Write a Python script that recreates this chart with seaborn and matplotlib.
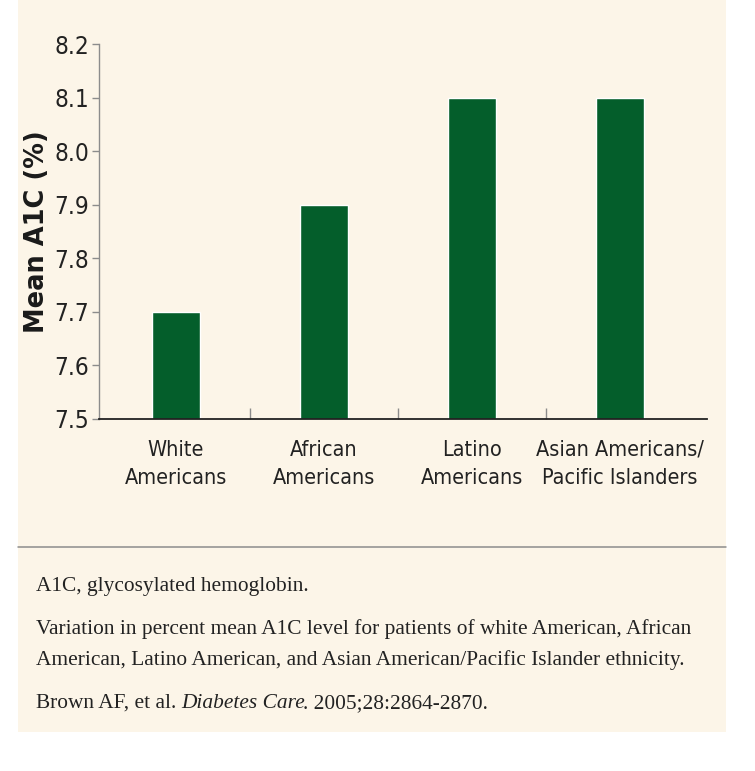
import matplotlib
matplotlib.use("Agg")
import matplotlib.pyplot as plt
import seaborn as sns
from matplotlib.patches import Rectangle
from matplotlib.lines import Line2D

# ── data ─────────────────────────────────────────────
categories = ["White\nAmericans", "African\nAmericans", "Latino\nAmericans",
              "Asian Americans/\nPacific Islanders"]
mean_a1c = [7.7, 7.9, 8.1, 8.1]
y_ticks = [7.5, 7.6, 7.7, 7.8, 7.9, 8.0, 8.1, 8.2]

notes = ["A1C, glycosylated hemoglobin.",
         "Variation in percent mean A1C level for patients of white American, African",
         "American, Latino American, and Asian American/Pacific Islander ethnicity."]
ref_pre, ref_journal, ref_post = "Brown AF, et al. ", "Diabetes Care", ". 2005;28:2864-2870."

# ── style ────────────────────────────────────────────
CREAM = "#fcf5e8"
GREEN = "#045e2b"
TXT = "#222222"
sns.set_theme(style="white")
plt.rcParams["font.family"] = ["DejaVu Sans"]
plt.rcParams["font.stretch"] = "condensed"

W, H = 755, 771
fig = plt.figure(figsize=(W / 100, H / 100), dpi=100, facecolor="white")

# cream panel + separator line
fig.patches.append(Rectangle((18 / W, 1 - 732 / H), (726 - 18) / W, 732 / H,
                             transform=fig.transFigure, facecolor=CREAM,
                             edgecolor="none", zorder=-10))
fig.lines.append(Line2D([18 / W, 726 / W], [1 - 547 / H, 1 - 547 / H],
                        transform=fig.transFigure, color="#8c8c8c", lw=1.1))

ax = fig.add_axes([99 / W, 1 - 419 / H, (707 - 99) / W, (419 - 44) / H])
ax.set_facecolor("none")

sns.barplot(x=categories, y=mean_a1c, color=GREEN, width=0.325,
            saturation=1, ax=ax, zorder=2)

ax.set_ylim(7.5, 8.2)
ax.set_xlim(-0.52, 3.59)
ax.set_yticks(y_ticks)
ax.set_yticklabels([f"{v:.1f}" for v in y_ticks], fontsize=17.5, color=TXT,
                   fontstretch="condensed")
ax.tick_params(axis="y", left=True, length=5, width=1, color="#8c8c8c", pad=2)
ax.tick_params(axis="x", bottom=False, length=0, pad=15, labelsize=15.5,
               labelcolor=TXT)
for lbl in ax.get_xticklabels():
    lbl.set_linespacing(1.5)
    lbl.set_fontstretch("condensed")
ax.set_xticks([0.5, 1.5, 2.5], minor=True)
ax.tick_params(axis="x", which="minor", bottom=True, direction="in",
               length=8, width=1, color="#8c8c8c")

for s in ["top", "right"]:
    ax.spines[s].set_visible(False)
ax.spines["left"].set_color("#8c8c8c")
ax.spines["left"].set_linewidth(1)
ax.spines["bottom"].set_color("#222222")
ax.spines["bottom"].set_linewidth(1.3)

ax.set_xlabel("")
ax.set_ylabel("Mean A1C (%)", fontsize=18.5, fontweight="bold",
              fontstretch="normal", color="#1a1a1a")
ax.yaxis.set_label_coords(-0.08, 0.5)

# ── footnotes ────────────────────────────────────────
serif = "Liberation Serif"
FS = 15.4
x0 = 36 / W
for txt, yb in zip(notes, [591, 634, 665]):
    fig.text(x0, 1 - yb / H, txt, family=serif, fontsize=FS,
             fontstretch="normal", va="baseline", color=TXT)
t1 = fig.text(x0, 1 - 708 / H, ref_pre, family=serif, fontsize=FS,
              fontstretch="normal", va="baseline", color=TXT)
t2 = fig.text(0, 0, ref_journal, family=serif, style="italic", fontsize=FS,
              fontstretch="normal", va="baseline", color=TXT)
t3 = fig.text(0, 0, ref_post, family=serif, fontsize=FS,
              fontstretch="normal", va="baseline", color=TXT)
fig.canvas.draw()
r = fig.canvas.get_renderer()
x1 = t1.get_window_extent(r).x1
t2.set_position((x1 / W, 1 - 708 / H))
fig.canvas.draw()
x2 = t2.get_window_extent(r).x1 - 2
t3.set_position((x2 / W, 1 - 708 / H))

fig.savefig("out.png", dpi=100, facecolor="white")
